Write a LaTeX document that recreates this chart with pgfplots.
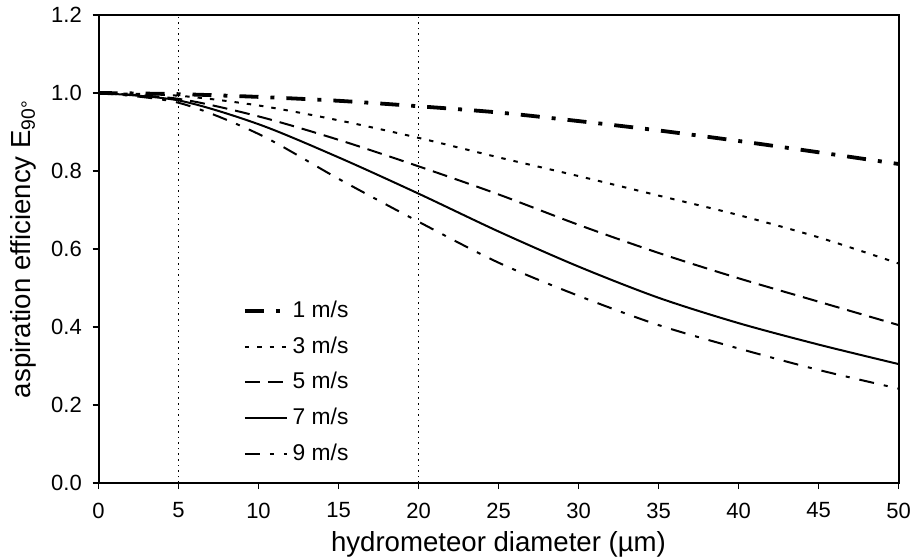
\documentclass[border=0pt]{standalone}
\usepackage{fontspec}
\setmainfont{Liberation Sans}
\usepackage{pgfplots}
\pgfplotsset{compat=1.18}
\begin{document}
\fontsize{11}{13}\selectfont
\begin{tikzpicture}
\begin{axis}[
  name=ax,
  scale only axis,
  width=400pt, height=234pt,
  xmin=0, xmax=50, ymin=0, ymax=1.2,
  xtick={0,5,...,50},
  ytick={0,0.2,...,1.2},
  yticklabel style={xshift=-1.5pt, /pgf/number format/fixed, /pgf/number format/fixed zerofill, /pgf/number format/precision=1},
  /pgf/number format/assume math mode=true,
  tick align=outside,
  tick pos=left,
  major tick length=3pt,
  axis line style={line width=1pt},
  every tick/.style={line width=0.9pt, black},
  xlabel={hydrometeor diameter (µm)},
  ylabel={aspiration efficiency E\textsubscript{90°}},
  xlabel style={at={([yshift=-34pt]axis description cs:0.5,0)}, anchor=base, font=\fontsize{13.8}{16}\selectfont},
  ylabel style={at={([xshift=-34pt]axis description cs:0,0.5)}, anchor=base, font=\fontsize{13.8}{16}\selectfont},
  tick label style={font=\fontsize{11}{13}\selectfont},
  xticklabel style={yshift=-3pt},
  legend style={at={(0.18,0.40)}, anchor=north west, draw=none, fill=none,
    inner sep=0pt,
    font=\fontsize{11.4}{13}\selectfont, row sep=3.4pt,
    nodes={text height=8.5pt, text depth=2pt, inner sep=2pt}},
  legend cell align=left,
  legend image code/.code={\draw[#1] (0pt,0pt) -- (21pt,0pt);},
]
\addplot[black, dotted, line width=0.8pt, forget plot] coordinates {(5,0) (5,1.2)};
\addplot[black, dotted, line width=0.8pt, forget plot] coordinates {(20,0) (20,1.2)};

\addplot[black, line width=1.9pt, dash pattern=on 9.5pt off 6pt on 2pt off 6pt, smooth] coordinates {
(0,1.0) (5,0.997) (10,0.99) (15,0.98) (20,0.966) (25,0.95) (30,0.928) (35,0.904) (40,0.877) (45,0.848) (50,0.818)};
\addlegendentry{1 m/s}

\addplot[black, line width=1pt, dash pattern=on 2.2pt off 4pt, smooth] coordinates {
(0,1.0) (5,0.993) (10,0.968) (15,0.93) (20,0.885) (25,0.835) (30,0.787) (35,0.737) (40,0.687) (45,0.63) (50,0.563)};
\addlegendentry{3 m/s}

\addplot[black, line width=1pt, dash pattern=on 7.5pt off 4pt, smooth] coordinates {
(0,1.0) (5,0.985) (10,0.94) (15,0.88) (20,0.812) (25,0.74) (30,0.662) (35,0.59) (40,0.525) (45,0.465) (50,0.405)};
\addlegendentry{5 m/s}

\addplot[black, line width=1pt, smooth] coordinates {
(0,1.0) (5,0.981) (10,0.92) (15,0.835) (20,0.742) (25,0.645) (30,0.555) (35,0.475) (40,0.41) (45,0.355) (50,0.305)};
\addlegendentry{7 m/s}

\addplot[black, line width=1pt, dash pattern=on 7.5pt off 5pt on 2pt off 5pt, smooth] coordinates {
(0,1.0) (5,0.975) (10,0.895) (15,0.78) (20,0.67) (25,0.565) (30,0.48) (35,0.405) (40,0.345) (45,0.29) (50,0.242)};
\addlegendentry{9 m/s}

\coordinate (ll) at (rel axis cs:0,0);
\coordinate (ur) at (rel axis cs:1,1);
\end{axis}
\pgfresetboundingbox
\path[use as bounding box] ([xshift=-49.25pt,yshift=-36.5pt]ll) rectangle ([xshift=6.75pt,yshift=7.5pt]ur);
\end{tikzpicture}
\end{document}
